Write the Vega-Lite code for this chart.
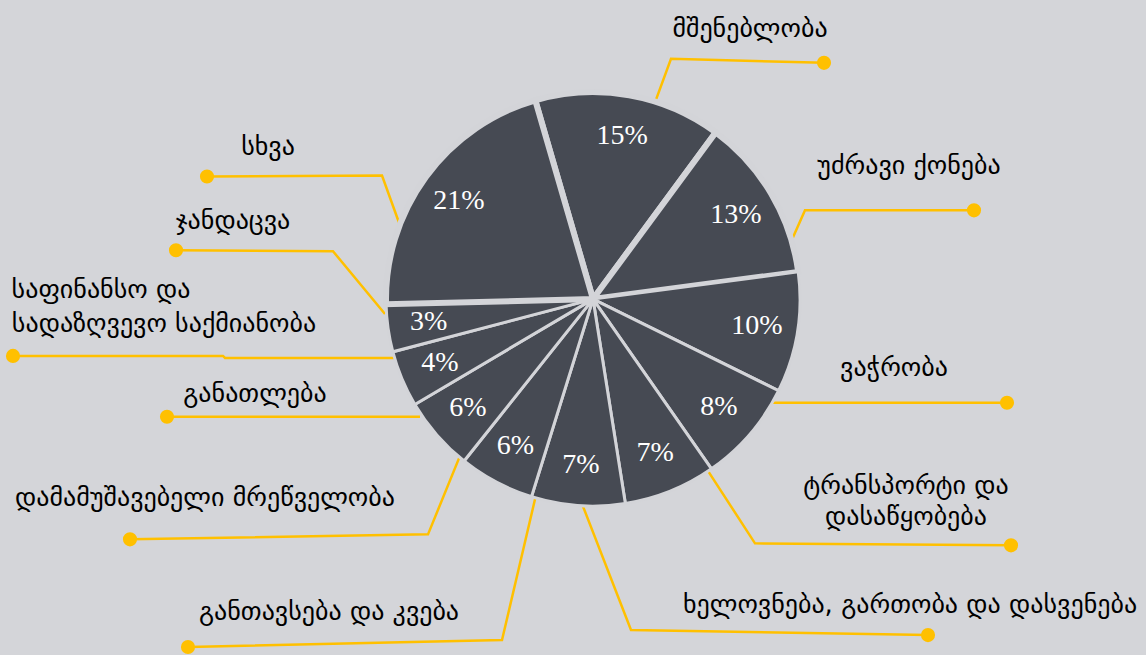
{
  "$schema": "https://vega.github.io/schema/vega-lite/v6.json",
  "width": 1146,
  "height": 655,
  "padding": 0,
  "autosize": {"type": "fit", "contains": "padding"},
  "background": "#d4d5d9",
  "config": {"view": {"stroke": null}},
  "datasets": {
    "slices": [
      {"idx": 1, "name": "მშენებლობა", "share": 14.6, "pct": 15, "label": "15%"},
      {"idx": 2, "name": "უძრავი ქონება", "share": 12.8, "pct": 13, "label": "13%"},
      {"idx": 3, "name": "ვაჭრობა", "share": 9.4, "pct": 10, "label": "10%"},
      {"idx": 4, "name": "ტრანსპორტი და დასაწყობება", "share": 8.0, "pct": 8, "label": "8%"},
      {"idx": 5, "name": "ხელოვნება, გართობა და დასვენება", "share": 7.2, "pct": 7, "label": "7%"},
      {"idx": 6, "name": "განთავსება და კვება", "share": 7.3, "pct": 7, "label": "7%"},
      {"idx": 7, "name": "დამამუშავებელი მრეწველობა", "share": 5.9, "pct": 6, "label": "6%"},
      {"idx": 8, "name": "განათლება", "share": 5.8, "pct": 6, "label": "6%"},
      {"idx": 9, "name": "საფინანსო და სადაზღვევო საქმიანობა", "share": 4.4, "pct": 4, "label": "4%"},
      {"idx": 10, "name": "ჯანდაცვა", "share": 3.7, "pct": 3, "label": "3%"},
      {"idx": 11, "name": "სხვა", "share": 20.9, "pct": 21, "label": "21%"}
    ],
    "leaders": [
      {"id": "a", "seq": 1, "x": 824, "y": 63}, {"id": "a", "seq": 2, "x": 671, "y": 59}, {"id": "a", "seq": 3, "x": 645, "y": 130},
      {"id": "b", "seq": 1, "x": 974, "y": 211}, {"id": "b", "seq": 2, "x": 805, "y": 211}, {"id": "b", "seq": 3, "x": 770, "y": 290},
      {"id": "c", "seq": 1, "x": 1007, "y": 404}, {"id": "c", "seq": 2, "x": 773, "y": 404}, {"id": "c", "seq": 3, "x": 755, "y": 375},
      {"id": "d", "seq": 1, "x": 1011, "y": 547}, {"id": "d", "seq": 2, "x": 755, "y": 545}, {"id": "d", "seq": 3, "x": 700, "y": 460},
      {"id": "e", "seq": 1, "x": 928, "y": 637}, {"id": "e", "seq": 2, "x": 631, "y": 632}, {"id": "e", "seq": 3, "x": 578, "y": 495},
      {"id": "f", "seq": 1, "x": 188, "y": 649}, {"id": "f", "seq": 2, "x": 502, "y": 642}, {"id": "f", "seq": 3, "x": 538, "y": 488},
      {"id": "g", "seq": 1, "x": 130, "y": 541}, {"id": "g", "seq": 2, "x": 428, "y": 536}, {"id": "g", "seq": 3, "x": 465, "y": 445},
      {"id": "h", "seq": 1, "x": 167, "y": 418}, {"id": "h", "seq": 2, "x": 420, "y": 418},
      {"id": "i", "seq": 1, "x": 13, "y": 357}, {"id": "i", "seq": 2, "x": 223, "y": 357}, {"id": "i", "seq": 3, "x": 225, "y": 359}, {"id": "i", "seq": 4, "x": 400, "y": 359},
      {"id": "j", "seq": 1, "x": 176, "y": 251}, {"id": "j", "seq": 2, "x": 333, "y": 252}, {"id": "j", "seq": 3, "x": 385, "y": 315},
      {"id": "k", "seq": 1, "x": 207, "y": 177}, {"id": "k", "seq": 2, "x": 382, "y": 176}, {"id": "k", "seq": 3, "x": 405, "y": 240}
    ],
    "dots": [
      {"x": 824, "y": 63}, {"x": 974, "y": 211}, {"x": 1007, "y": 404}, {"x": 1011, "y": 547},
      {"x": 928, "y": 637}, {"x": 188, "y": 649}, {"x": 130, "y": 541}, {"x": 167, "y": 418},
      {"x": 13, "y": 357}, {"x": 176, "y": 251}, {"x": 207, "y": 177}
    ],
    "labels": [
      {"text": "მშენებლობა", "x": 750, "y": 29},
      {"text": "უძრავი ქონება", "x": 909, "y": 167},
      {"text": "ვაჭრობა", "x": 894, "y": 369},
      {"text": "ტრანსპორტი და", "x": 906, "y": 487},
      {"text": "დასაწყობება", "x": 906, "y": 519},
      {"text": "ხელოვნება, გართობა და დასვენება", "x": 910, "y": 607},
      {"text": "განთავსება და კვება", "x": 329, "y": 614},
      {"text": "დამამუშავებელი მრეწველობა", "x": 205, "y": 500},
      {"text": "განათლება", "x": 255, "y": 395},
      {"text": "საფინანსო და", "x": 101, "y": 291},
      {"text": "სადაზღვევო საქმიანობა", "x": 164, "y": 325},
      {"text": "ჯანდაცვა", "x": 233, "y": 222},
      {"text": "სხვა", "x": 268, "y": 147}
    ]
  },
  "layer": [
    {
      "data": {"name": "leaders"},
      "mark": {"type": "line", "color": "#FFC000", "strokeWidth": 2.5},
      "encoding": {
        "x": {"field": "x", "type": "quantitative", "scale": {"domain": [0, 1146], "nice": false, "zero": false}, "axis": null},
        "y": {"field": "y", "type": "quantitative", "scale": {"domain": [0, 655], "reverse": true, "nice": false, "zero": false}, "axis": null},
        "detail": {"field": "id"},
        "order": {"field": "seq"}
      }
    },
    {
      "data": {"name": "dots"},
      "mark": {"type": "circle", "color": "#FFC000", "opacity": 1, "size": 200},
      "encoding": {
        "x": {"field": "x", "type": "quantitative"},
        "y": {"field": "y", "type": "quantitative"}
      }
    },
    {
      "data": {"name": "slices"},
      "mark": {"type": "arc", "outerRadius": 207, "fill": "#464a53", "stroke": "#d3d4d8"},
      "encoding": {
        "theta": {"field": "share", "type": "quantitative", "stack": true, "scale": {"range": [-0.2827, 6.0005]}},
        "order": {"field": "idx"},
        "x": {"datum": 593, "type": "quantitative"},
        "y": {"datum": 300, "type": "quantitative"},
        "strokeWidth": {"condition": {"test": "datum.pct >= 13", "value": 6}, "value": 3}
      }
    },
    {
      "data": {"name": "slices"},
      "mark": {"type": "text", "radius": 166, "font": "Liberation Serif", "fontSize": 28, "fill": "white"},
      "encoding": {
        "theta": {"field": "share", "type": "quantitative", "stack": true},
        "order": {"field": "idx"},
        "x": {"datum": 593, "type": "quantitative"},
        "y": {"datum": 300, "type": "quantitative"},
        "text": {"field": "label"}
      }
    },
    {
      "data": {"name": "labels"},
      "mark": {"type": "text", "font": "DejaVu Sans", "fontSize": 26, "fill": "black"},
      "encoding": {
        "x": {"field": "x", "type": "quantitative"},
        "y": {"field": "y", "type": "quantitative"},
        "text": {"field": "text"}
      }
    }
  ]
}
